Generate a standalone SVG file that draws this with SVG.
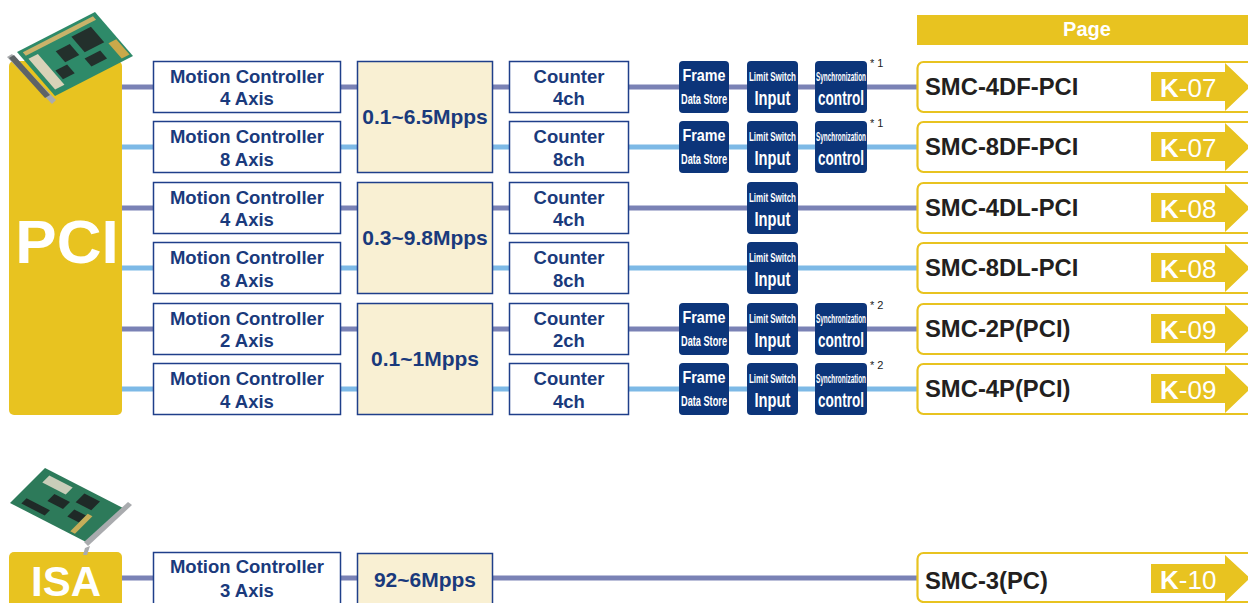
<svg xmlns="http://www.w3.org/2000/svg" width="1248" height="603" viewBox="0 0 1248 603">
<defs>
<style>
.bg{fill:#ffffff}
.gold{fill:#E8C320}
.ld{stroke:#7A82B5;stroke-width:5;fill:none}
.ll{stroke:#7DB9E6;stroke-width:5;fill:none}
.box{fill:#ffffff;stroke:#1F3F8A;stroke-width:1.5}
.spd{fill:#F9F0D3;stroke:#1F3F8A;stroke-width:1.5}
.badge{fill:#0C357A}
.prod{fill:#ffffff;stroke:#E8C320;stroke-width:2.2}
.t{font-family:"Liberation Sans",Arial,sans-serif;font-weight:bold;fill:#1A3A7C;text-anchor:middle}
.m{font-size:18.5px}
.s{font-size:21px}
.w{font-family:"Liberation Sans",Arial,sans-serif;font-weight:bold;fill:#ffffff;text-anchor:middle}
.b1{font-size:17px}
.b2{font-size:15px}
.b3{font-size:12.5px}
.b4{font-size:20px}
.p{font-family:"Liberation Sans",Arial,sans-serif;font-weight:bold;fill:#231F20;font-size:23.8px}
.k{font-family:"Liberation Sans",Arial,sans-serif;fill:#ffffff;font-size:26px}
.note{font-family:"Liberation Sans",Arial,sans-serif;fill:#222222;font-size:11px}
</style>
</defs>
<rect class="bg" x="0" y="0" width="1248" height="603"/>

<!-- connectors -->
<g id="connectors">
<line class="ld" x1="122" y1="87" x2="918" y2="87"/>
<line class="ll" x1="122" y1="147" x2="918" y2="147"/>
<line class="ld" x1="122" y1="208" x2="918" y2="208"/>
<line class="ll" x1="122" y1="268" x2="918" y2="268"/>
<line class="ld" x1="122" y1="329" x2="918" y2="329"/>
<line class="ll" x1="122" y1="389" x2="918" y2="389"/>
<line class="ld" x1="122" y1="578" x2="918" y2="578"/>
</g>

<!-- PCI bus block -->
<g id="pci">
<rect class="gold" x="9" y="61" width="113" height="354" rx="5"/>
<text class="w" x="67" y="263" style="font-size:62px">PCI</text>
</g>
<g id="pci-card">
<polygon points="7,57 12,54 56,100 52,104" fill="#A9ABAE"/>
<g transform="matrix(78,-40,38,44,17,52)">
<polygon points="0,0 1,0 1,1 0,1" fill="#2E8A69"/>
<rect x="0.05" y="0.05" width="0.9" height="0.08" fill="#C9B36A"/>
<rect x="0.35" y="0.3" width="0.18" height="0.25" fill="#23302C"/>
<rect x="0.6" y="0.2" width="0.25" height="0.35" fill="#23302C"/>
<rect x="0.2" y="0.6" width="0.15" height="0.2" fill="#23302C"/>
<rect x="0.55" y="0.65" width="0.2" height="0.18" fill="#23302C"/>
<rect x="0.05" y="0.2" width="0.12" height="0.7" fill="#D8D2B8"/>
<rect x="0.88" y="0.6" width="0.1" height="0.35" fill="#C9A94A"/>
</g>
<polygon points="9,58 14,55 50,95 45,98" fill="#5E6366"/>
</g>

<!-- page header -->
<g id="page-header">
<rect class="gold" x="917" y="15" width="331" height="30"/>
<text class="w" x="1087" y="36" style="font-size:20px">Page</text>
</g>

<!-- Row 1 -->
<g id="mc-4axis-1"><rect class="box" x="153.5" y="61.5" width="187" height="51"/><text class="t m" x="247" y="83">Motion Controller</text><text class="t m" x="247" y="105">4 Axis</text></g>
<g id="speed-1"><rect class="spd" x="357.5" y="61.5" width="135" height="111"/><text class="t s" x="425" y="124">0.1~6.5Mpps</text></g>
<g id="cnt-1"><rect class="box" x="509.5" y="61.5" width="119" height="51"/><text class="t m" x="569" y="83">Counter</text><text class="t m" x="569" y="105">4ch</text></g>
<g id="frame-1"><rect class="badge" x="679" y="61" width="50" height="52" rx="4"/><text class="w b1" x="704" y="81" textLength="43" lengthAdjust="spacingAndGlyphs">Frame</text><text class="w b2" x="704" y="104" textLength="46" lengthAdjust="spacingAndGlyphs">Data Store</text></g>
<g id="limit-1"><rect class="badge" x="747" y="61" width="51" height="52" rx="4"/><text class="w b3" x="772.5" y="81" textLength="47" lengthAdjust="spacingAndGlyphs">Limit Switch</text><text class="w b4" x="772.5" y="105" textLength="36" lengthAdjust="spacingAndGlyphs">Input</text></g>
<g id="sync-1"><rect class="badge" x="815" y="61" width="52" height="52" rx="4"/><text class="w b3" x="841" y="81" textLength="50" lengthAdjust="spacingAndGlyphs">Synchronization</text><text class="w b4" x="841" y="105" textLength="46" lengthAdjust="spacingAndGlyphs">control</text><text class="note" x="870" y="67">* 1</text></g>
<g id="smc-4df-pci"><rect class="prod" x="917.5" y="62" width="345" height="50" rx="6"/><text class="p" x="925" y="95">SMC-4DF-PCI</text><polygon class="gold" points="1151,72 1225,72 1225,63 1250,87 1225,111 1225,101 1151,101"/><text class="k" x="1160" y="97"><tspan font-weight="bold">K</tspan>-07</text></g>

<!-- Row 2 -->
<g id="mc-8axis-2"><rect class="box" x="153.5" y="121.5" width="187" height="51"/><text class="t m" x="247" y="143">Motion Controller</text><text class="t m" x="247" y="166">8 Axis</text></g>
<g id="cnt-2"><rect class="box" x="509.5" y="121.5" width="119" height="51"/><text class="t m" x="569" y="143">Counter</text><text class="t m" x="569" y="166">8ch</text></g>
<g id="frame-2"><rect class="badge" x="679" y="121" width="50" height="52" rx="4"/><text class="w b1" x="704" y="141" textLength="43" lengthAdjust="spacingAndGlyphs">Frame</text><text class="w b2" x="704" y="164" textLength="46" lengthAdjust="spacingAndGlyphs">Data Store</text></g>
<g id="limit-2"><rect class="badge" x="747" y="121" width="51" height="52" rx="4"/><text class="w b3" x="772.5" y="141" textLength="47" lengthAdjust="spacingAndGlyphs">Limit Switch</text><text class="w b4" x="772.5" y="165" textLength="36" lengthAdjust="spacingAndGlyphs">Input</text></g>
<g id="sync-2"><rect class="badge" x="815" y="121" width="52" height="52" rx="4"/><text class="w b3" x="841" y="141" textLength="50" lengthAdjust="spacingAndGlyphs">Synchronization</text><text class="w b4" x="841" y="165" textLength="46" lengthAdjust="spacingAndGlyphs">control</text><text class="note" x="870" y="127">* 1</text></g>
<g id="smc-8df-pci"><rect class="prod" x="917.5" y="122" width="345" height="50" rx="6"/><text class="p" x="925" y="155">SMC-8DF-PCI</text><polygon class="gold" points="1151,132 1225,132 1225,123 1250,147 1225,171 1225,161 1151,161"/><text class="k" x="1160" y="157"><tspan font-weight="bold">K</tspan>-07</text></g>

<!-- Row 3 -->
<g id="mc-4axis-3"><rect class="box" x="153.5" y="182.5" width="187" height="51"/><text class="t m" x="247" y="204">Motion Controller</text><text class="t m" x="247" y="226">4 Axis</text></g>
<g id="speed-2"><rect class="spd" x="357.5" y="182.5" width="135" height="111"/><text class="t s" x="425" y="245">0.3~9.8Mpps</text></g>
<g id="cnt-3"><rect class="box" x="509.5" y="182.5" width="119" height="51"/><text class="t m" x="569" y="204">Counter</text><text class="t m" x="569" y="226">4ch</text></g>
<g id="limit-3"><rect class="badge" x="747" y="182" width="51" height="52" rx="4"/><text class="w b3" x="772.5" y="202" textLength="47" lengthAdjust="spacingAndGlyphs">Limit Switch</text><text class="w b4" x="772.5" y="226" textLength="36" lengthAdjust="spacingAndGlyphs">Input</text></g>
<g id="smc-4dl-pci"><rect class="prod" x="917.5" y="183" width="345" height="50" rx="6"/><text class="p" x="925" y="216">SMC-4DL-PCI</text><polygon class="gold" points="1151,193 1225,193 1225,184 1250,208 1225,232 1225,222 1151,222"/><text class="k" x="1160" y="218"><tspan font-weight="bold">K</tspan>-08</text></g>

<!-- Row 4 -->
<g id="mc-8axis-4"><rect class="box" x="153.5" y="242.5" width="187" height="51"/><text class="t m" x="247" y="264">Motion Controller</text><text class="t m" x="247" y="287">8 Axis</text></g>
<g id="cnt-4"><rect class="box" x="509.5" y="242.5" width="119" height="51"/><text class="t m" x="569" y="264">Counter</text><text class="t m" x="569" y="287">8ch</text></g>
<g id="limit-4"><rect class="badge" x="747" y="242" width="51" height="52" rx="4"/><text class="w b3" x="772.5" y="262" textLength="47" lengthAdjust="spacingAndGlyphs">Limit Switch</text><text class="w b4" x="772.5" y="286" textLength="36" lengthAdjust="spacingAndGlyphs">Input</text></g>
<g id="smc-8dl-pci"><rect class="prod" x="917.5" y="243" width="345" height="50" rx="6"/><text class="p" x="925" y="276">SMC-8DL-PCI</text><polygon class="gold" points="1151,253 1225,253 1225,244 1250,268 1225,292 1225,282 1151,282"/><text class="k" x="1160" y="278"><tspan font-weight="bold">K</tspan>-08</text></g>

<!-- Row 5 -->
<g id="mc-2axis-5"><rect class="box" x="153.5" y="303.5" width="187" height="51"/><text class="t m" x="247" y="325">Motion Controller</text><text class="t m" x="247" y="347">2 Axis</text></g>
<g id="speed-3"><rect class="spd" x="357.5" y="303.5" width="135" height="111"/><text class="t s" x="425" y="366">0.1~1Mpps</text></g>
<g id="cnt-5"><rect class="box" x="509.5" y="303.5" width="119" height="51"/><text class="t m" x="569" y="325">Counter</text><text class="t m" x="569" y="347">2ch</text></g>
<g id="frame-5"><rect class="badge" x="679" y="303" width="50" height="52" rx="4"/><text class="w b1" x="704" y="323" textLength="43" lengthAdjust="spacingAndGlyphs">Frame</text><text class="w b2" x="704" y="346" textLength="46" lengthAdjust="spacingAndGlyphs">Data Store</text></g>
<g id="limit-5"><rect class="badge" x="747" y="303" width="51" height="52" rx="4"/><text class="w b3" x="772.5" y="323" textLength="47" lengthAdjust="spacingAndGlyphs">Limit Switch</text><text class="w b4" x="772.5" y="347" textLength="36" lengthAdjust="spacingAndGlyphs">Input</text></g>
<g id="sync-5"><rect class="badge" x="815" y="303" width="52" height="52" rx="4"/><text class="w b3" x="841" y="323" textLength="50" lengthAdjust="spacingAndGlyphs">Synchronization</text><text class="w b4" x="841" y="347" textLength="46" lengthAdjust="spacingAndGlyphs">control</text><text class="note" x="870" y="309">* 2</text></g>
<g id="smc-2p-pci"><rect class="prod" x="917.5" y="304" width="345" height="50" rx="6"/><text class="p" x="925" y="337">SMC-2P(PCI)</text><polygon class="gold" points="1151,314 1225,314 1225,305 1250,329 1225,353 1225,343 1151,343"/><text class="k" x="1160" y="339"><tspan font-weight="bold">K</tspan>-09</text></g>

<!-- Row 6 -->
<g id="mc-4axis-6"><rect class="box" x="153.5" y="363.5" width="187" height="51"/><text class="t m" x="247" y="385">Motion Controller</text><text class="t m" x="247" y="408">4 Axis</text></g>
<g id="cnt-6"><rect class="box" x="509.5" y="363.5" width="119" height="51"/><text class="t m" x="569" y="385">Counter</text><text class="t m" x="569" y="408">4ch</text></g>
<g id="frame-6"><rect class="badge" x="679" y="363" width="50" height="52" rx="4"/><text class="w b1" x="704" y="383" textLength="43" lengthAdjust="spacingAndGlyphs">Frame</text><text class="w b2" x="704" y="406" textLength="46" lengthAdjust="spacingAndGlyphs">Data Store</text></g>
<g id="limit-6"><rect class="badge" x="747" y="363" width="51" height="52" rx="4"/><text class="w b3" x="772.5" y="383" textLength="47" lengthAdjust="spacingAndGlyphs">Limit Switch</text><text class="w b4" x="772.5" y="407" textLength="36" lengthAdjust="spacingAndGlyphs">Input</text></g>
<g id="sync-6"><rect class="badge" x="815" y="363" width="52" height="52" rx="4"/><text class="w b3" x="841" y="383" textLength="50" lengthAdjust="spacingAndGlyphs">Synchronization</text><text class="w b4" x="841" y="407" textLength="46" lengthAdjust="spacingAndGlyphs">control</text><text class="note" x="870" y="369">* 2</text></g>
<g id="smc-4p-pci"><rect class="prod" x="917.5" y="364" width="345" height="50" rx="6"/><text class="p" x="925" y="397">SMC-4P(PCI)</text><polygon class="gold" points="1151,374 1225,374 1225,365 1250,389 1225,413 1225,403 1151,403"/><text class="k" x="1160" y="399"><tspan font-weight="bold">K</tspan>-09</text></g>

<!-- ISA -->
<g id="isa">
<rect class="gold" x="9" y="552" width="113" height="70" rx="5"/>
<text class="w" x="66" y="596" style="font-size:42px">ISA</text>
</g>
<g id="isa-card">
<g transform="matrix(35,-35,78,40,10,503)">
<polygon points="0,0 1,0 1,1 0,1" fill="#2D7A5A"/>
<rect x="0.1" y="0.1" width="0.15" height="0.3" fill="#1F2A27"/>
<rect x="0.4" y="0.3" width="0.2" height="0.2" fill="#1F2A27"/>
<rect x="0.3" y="0.6" width="0.2" height="0.15" fill="#1F2A27"/>
<rect x="0.65" y="0.55" width="0.25" height="0.2" fill="#1F2A27"/>
<rect x="0.05" y="0.75" width="0.5" height="0.06" fill="#C6AE5A"/>
<rect x="0.7" y="0.1" width="0.2" height="0.3" fill="#C9CDB9"/>
</g>
<polygon points="84,542 128,502 132,505 88,546" fill="#A9ABAE"/>
<polygon points="85,548 90,546 87,555 83,555" fill="#A9ABAE"/>
</g>
<g id="mc-3axis"><rect class="box" x="153.5" y="552.5" width="187" height="70"/><text class="t m" x="247" y="573">Motion Controller</text><text class="t m" x="247" y="597">3 Axis</text></g>
<g id="speed-isa"><rect class="spd" x="357.5" y="553.5" width="135" height="70"/><text class="t s" x="425" y="587">92~6Mpps</text></g>
<g id="smc-3-pc"><rect class="prod" x="917.5" y="553" width="345" height="49" rx="6"/><text class="p" x="925" y="589">SMC-3(PC)</text><polygon class="gold" points="1151,564 1225,564 1225,555 1250,578 1225,602 1225,593 1151,593"/><text class="k" x="1160" y="589"><tspan font-weight="bold">K</tspan>-10</text></g>
</svg>
